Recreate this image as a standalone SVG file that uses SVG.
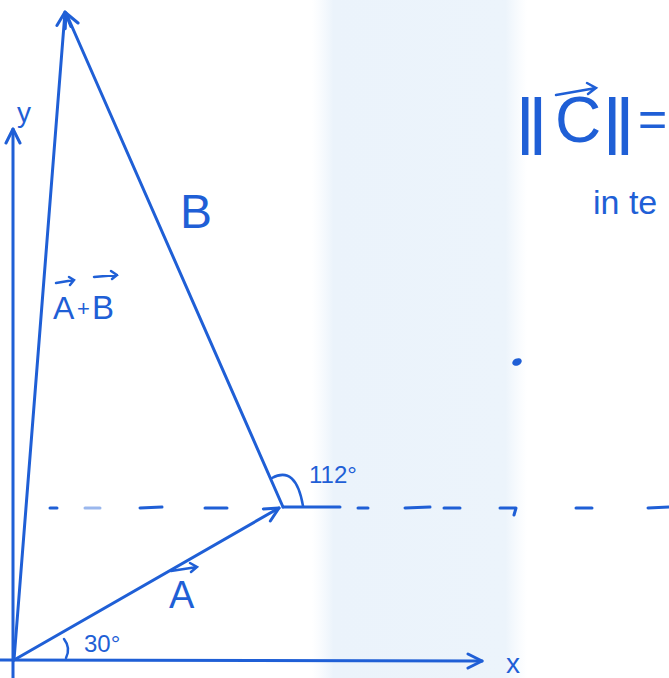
<svg xmlns="http://www.w3.org/2000/svg" width="669" height="678" viewBox="0 0 669 678">
  <defs>
    <linearGradient id="band" x1="0" y1="0" x2="1" y2="0">
      <stop offset="0" stop-color="#f0f6fc" stop-opacity="0"/>
      <stop offset="0.1" stop-color="#ebf3fb"/>
      <stop offset="0.9" stop-color="#ecf4fb"/>
      <stop offset="1" stop-color="#f0f6fc" stop-opacity="0"/>
    </linearGradient>
    <marker id="arr" viewBox="-16 -9 18 18" markerWidth="18" markerHeight="18" refX="0" refY="0" orient="auto" markerUnits="userSpaceOnUse">
      <path d="M -14 -7 L 0 0 L -14 7" fill="none" stroke="#1f5fd6" stroke-width="3" stroke-linecap="round" stroke-linejoin="round"/>
    </marker>
  </defs>
  <style>
    .ink { stroke: #1f5fd6; stroke-width: 3; fill: none; stroke-linecap: round; stroke-linejoin: round; }
    .thin { stroke: #1f5fd6; stroke-width: 2.5; fill: none; stroke-linecap: round; }
    .dash { stroke: #1f5fd6; stroke-width: 3; stroke-linecap: round; }
    .lbl { fill: #1f5fd6; font-family: "Liberation Sans", "DejaVu Sans", sans-serif; }
  </style>
  <rect x="0" y="0" width="669" height="678" fill="#ffffff"/>
  <rect x="312" y="0" width="215" height="678" fill="url(#band)"/>

  <g id="axes">
    <line class="ink" x1="0" y1="660" x2="482" y2="661" marker-end="url(#arr)"/>
    <line class="ink" x1="13" y1="678" x2="13" y2="129" marker-end="url(#arr)"/>
    <text class="lbl" x="506" y="673" font-size="28">x</text>
    <text class="lbl" x="17" y="122" font-size="28">y</text>
  </g>

  <g id="reference-line">
    <line class="dash" x1="50" y1="508" x2="57" y2="508"/>
    <line class="dash" x1="85" y1="508" x2="100" y2="508" stroke-opacity="0.45"/>
    <line class="dash" x1="140" y1="508" x2="162" y2="507"/>
    <line class="dash" x1="205" y1="508" x2="227" y2="508"/>
    <line class="dash" x1="283" y1="507" x2="340" y2="507"/>
    <line class="dash" x1="358" y1="508" x2="368" y2="508"/>
    <line class="dash" x1="405" y1="508" x2="430" y2="507"/>
    <line class="dash" x1="444" y1="508" x2="460" y2="508"/>
    <path class="ink" d="M 500 508 L 516 508 L 514 515"/>
    <line class="dash" x1="576" y1="508" x2="592" y2="508"/>
    <line class="dash" x1="648" y1="508" x2="669" y2="507"/>
  </g>

  <g id="connectors">
    <line id="vecA" class="ink" x1="14" y1="660" x2="279" y2="508" marker-end="url(#arr)"/>
    <line id="vecB" class="ink" x1="283" y1="507" x2="66" y2="13" marker-end="url(#arr)"/>
    <line id="vecAB" class="ink" x1="14" y1="660" x2="65" y2="12" marker-end="url(#arr)"/>
  </g>

  <g id="angles">
    <path class="thin" d="M 64 639 Q 71 648 66 658"/>
    <text class="lbl" x="84" y="652" font-size="24">30°</text>
    <path class="thin" d="M 272 478 Q 296 465 303 506"/>
    <text class="lbl" x="309" y="483" font-size="24">112°</text>
  </g>

  <g id="labels">
    <text class="lbl" x="53" y="319" font-size="32">A</text>
    <path class="thin" d="M 56 283 L 74 280 M 69 277 L 74 280 L 70 285"/>
    <text class="lbl" x="77" y="316" font-size="22">+</text>
    <text class="lbl" x="92" y="319" font-size="33">B</text>
    <path class="thin" d="M 94 277 L 117 275 M 111 271 L 117 275 L 112 279"/>
    <text class="lbl" x="180" y="228" font-size="48">B</text>
    <text class="lbl" x="169" y="608" font-size="38">A</text>
    <path class="thin" d="M 171 571 L 197 567 M 190 563 L 197 567 L 191 572"/>
    <ellipse cx="517" cy="362" rx="5" ry="3.5" fill="#1f5fd6" transform="rotate(-25 517 362)"/>
  </g>

  <g id="note">
    <text class="lbl" x="515" y="155" font-size="80" font-family="DejaVu Sans, sans-serif">‖</text>
    <text class="lbl" x="555" y="142" font-size="64">C</text>
    <path class="thin" d="M 556 95 L 596 88 M 587 83 L 596 88 L 588 94"/>
    <text class="lbl" x="602" y="155" font-size="80" font-family="DejaVu Sans, sans-serif">‖</text>
    <text class="lbl" x="638" y="136" font-size="50">=</text>
    <text class="lbl" x="593" y="214" font-size="34">in te</text>
  </g>
</svg>
